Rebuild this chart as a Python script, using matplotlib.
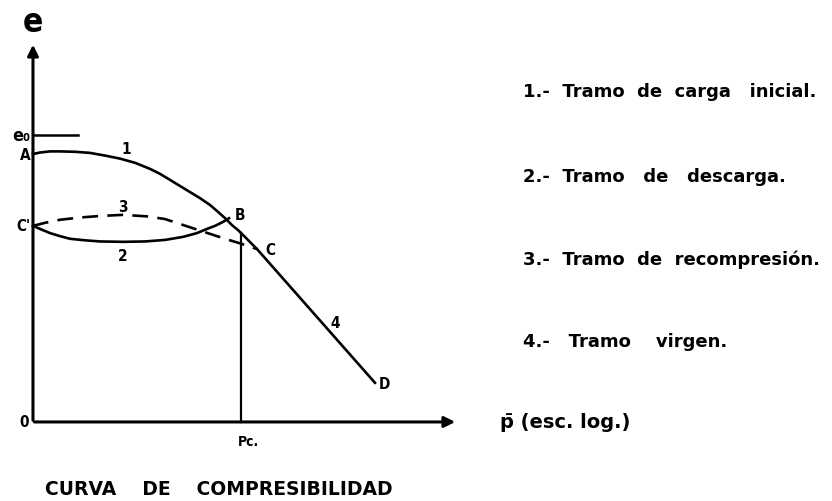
import numpy as np
import matplotlib
matplotlib.use('agg')
import matplotlib.pyplot as plt

# x = log p (arbitrary units), e = void ratio (arbitrary units)
# tramo 1 + tramo 4 (carga inicial -> B -> C -> D)
x_carga = [0.0, 0.165, 0.40, 0.635, 0.988, 1.341, 1.694, 2.047, 2.40, 2.753, 2.988,
           3.224, 3.459, 3.694, 3.929, 4.165, 4.353, 4.541, 4.682, 4.824, 4.988,
           5.153, 5.271, 8.047]
e_carga = [0.705, 0.709, 0.712, 0.712, 0.711, 0.708, 0.701, 0.693, 0.682, 0.666, 0.653,
           0.637, 0.621, 0.605, 0.589, 0.571, 0.553, 0.534, 0.518, 0.505, 0.487,
           0.468, 0.455, 0.103]
# tramo 2 (descarga, C' -> B)
x_desc = [0.0, 0.165, 0.40, 0.635, 0.871, 1.224, 1.576, 2.118, 2.635, 3.106, 3.529,
          3.859, 4.094, 4.282, 4.447, 4.612]
e_desc = [0.516, 0.508, 0.497, 0.489, 0.482, 0.478, 0.475, 0.474, 0.475, 0.479, 0.487,
          0.497, 0.508, 0.516, 0.525, 0.536]
# tramo 3 (recompresion, C' -> C)
x_rec = [0.0, 0.282, 0.635, 1.106, 1.576, 2.118, 2.682, 3.106, 3.459, 3.812, 4.165,
         4.518, 4.871, 5.271]
e_rec = [0.516, 0.524, 0.532, 0.538, 0.542, 0.545, 0.541, 0.534, 0.521, 0.508, 0.495,
         0.482, 0.470, 0.455]
e0 = 0.755
pc = 4.89

leyenda = ['1.-  Tramo  de  carga   inicial.',
           '2.-  Tramo   de   descarga.',
           '3.-  Tramo  de  recompresión.',
           '4.-   Tramo    virgen.']

font = dict(family='DejaVu Sans', weight='bold')
fontc = dict(family='DejaVu Sans', weight='bold', stretch='condensed')

fig = plt.figure(figsize=(8.32, 5.02), dpi=100)
ax = fig.add_axes([0, 0, 1, 1])
ax.set_xlim(-0.776, 18.8)
ax.set_ylim(-0.208, 1.113)
ax.axis('off')

# ejes
ax.annotate('', xy=(0, 1.0), xytext=(0, -0.003),
            arrowprops=dict(arrowstyle='-|>', lw=2.2, color='black', mutation_scale=16))
ax.annotate('', xy=(10.0, 0), xytext=(-0.03, 0),
            arrowprops=dict(arrowstyle='-|>', lw=2.2, color='black', mutation_scale=16))

# curvas
ax.plot(x_carga, e_carga, color='black', lw=1.9, solid_joinstyle='round')
ax.plot(x_desc, e_desc, color='black', lw=1.9, solid_joinstyle='round')
ax.plot(x_rec, e_rec, color='black', lw=1.9, linestyle=(0, (6, 3.5)))
ax.plot([0, 1.06], [e0, e0], color='black', lw=1.8)
ax.plot([pc, pc], [0, np.interp(pc, x_carga, e_carga)], color='black', lw=1.6)

# etiquetas
ax.text(0, 1.055, 'e', fontsize=24, ha='center', va='center', **fontc)
ax.text(-0.06, e0, 'e₀', fontsize=13, ha='right', va='center', **fontc)
ax.text(-0.06, 0.705, 'A', fontsize=11, ha='right', va='center', **fontc)
ax.text(-0.06, 0.516, "C'", fontsize=11, ha='right', va='center', **fontc)
ax.text(2.19, 0.72, '1', fontsize=11, ha='center', va='center', **fontc)
ax.text(2.12, 0.568, '3', fontsize=11, ha='center', va='center', **fontc)
ax.text(2.12, 0.437, '2', fontsize=11, ha='center', va='center', **fontc)
ax.text(4.87, 0.545, 'B', fontsize=11, ha='center', va='center', **fontc)
ax.text(5.58, 0.455, 'C', fontsize=11, ha='center', va='center', **fontc)
ax.text(7.11, 0.263, '4', fontsize=11, ha='center', va='center', **fontc)
ax.text(8.28, 0.10, 'D', fontsize=11, ha='center', va='center', **fontc)
ax.text(-0.21, 0, '0', fontsize=11, ha='center', va='center', **fontc)
ax.text(5.06, -0.05, 'Pc.', fontsize=10, ha='center', va='center', **fontc)
ax.text(10.99, 0, 'p\u0304 (esc. log.)', fontsize=14, ha='left', va='center', **font)

for txt, ey in zip(leyenda, [0.871, 0.647, 0.429, 0.213]):
    ax.text(11.53, ey, txt, fontsize=13, ha='left', va='center', **font)

ax.text(0.28, -0.176, 'CURVA    DE    COMPRESIBILIDAD', fontsize=13.5,
        ha='left', va='center', **font)

fig.savefig('out.png', dpi=100)
